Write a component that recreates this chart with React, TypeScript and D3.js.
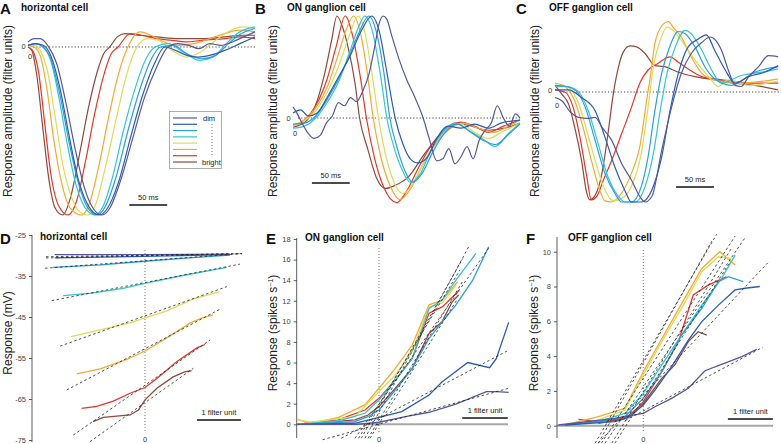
import { useEffect, useRef } from "react";
import * as d3 from "d3";

type Pt = [number, number];
type Seg = [number, number, number, number];

// dim -> bright
const COLORS = ["#57589b", "#2b5cae", "#2a9fdc", "#35c4d3", "#dcdc58", "#f4a935", "#e3372a", "#8d4a3c"];
const LEGEND_LABELS = ["dim", "bright"];

// temporal filters: [time (ms), amplitude (filter units)]
const hcFilters: Pt[][] = [
  [[0,0.03],[8,0.05],[16,0.05],[26,0.01],[38,-0.1],[50,-0.33],[62,-0.6],[74,-0.83],[86,-0.96],[98,-1],[108,-0.96],[122,-0.8],[138,-0.55],[154,-0.3],[170,-0.12],[185,0],[198,0.02],[212,0.01],[226,-0.01],[240,0.02],[255,0.01],[270,0.03],[285,0.06],[300,0.09]],
  [[0,0.01],[10,0.02],[20,0.01],[30,-0.05],[42,-0.24],[54,-0.52],[66,-0.78],[78,-0.93],[88,-0.99],[95,-1],[105,-0.96],[120,-0.8],[136,-0.53],[152,-0.28],[167,-0.1],[181,0],[195,-0.02],[210,-0.05],[225,-0.06],[240,-0.05],[260,-0.02],[280,0.02],[300,0.06]],
  [[0,0.01],[10,0.02],[20,0],[30,-0.07],[42,-0.28],[54,-0.56],[66,-0.8],[78,-0.95],[92,-1],[102,-0.95],[116,-0.78],[132,-0.5],[148,-0.25],[162,-0.08],[175,0],[192,0.01],[210,-0.04],[230,-0.07],[248,-0.05],[265,0.02],[282,0.08],[300,0.11]],
  [[0,0.01],[10,0.02],[20,0],[30,-0.08],[40,-0.28],[52,-0.58],[64,-0.83],[76,-0.96],[89,-1],[99,-0.95],[112,-0.77],[126,-0.5],[142,-0.24],[156,-0.07],[168,0],[185,0.02],[205,-0.03],[227,-0.08],[245,-0.06],[262,0.02],[280,0.09],[300,0.12]],
  [[0,0.01],[8,0.01],[16,-0.02],[26,-0.15],[36,-0.42],[46,-0.7],[58,-0.9],[68,-0.98],[79,-1],[90,-0.93],[102,-0.72],[116,-0.44],[130,-0.17],[144,0],[158,0.05],[172,0.04],[190,-0.02],[210,-0.06],[228,-0.03],[248,0.04],[268,0.1],[285,0.12],[300,0.11]],
  [[0,0.01],[8,0],[16,-0.05],[25,-0.25],[34,-0.55],[44,-0.8],[56,-0.96],[71,-1],[82,-0.92],[94,-0.7],[106,-0.43],[119,-0.17],[132,0],[148,0.09],[162,0.07],[180,0.03],[200,0.01],[220,0.02],[240,0.05],[260,0.08],[280,0.1],[300,0.09]],
  [[0,0],[6,-0.02],[14,-0.15],[22,-0.45],[30,-0.75],[40,-0.94],[53,-1],[64,-0.92],[76,-0.68],[88,-0.4],[100,-0.17],[110,-0.04],[119,0],[135,0.08],[150,0.07],[170,0.05],[190,0.04],[210,0.03],[230,0.04],[260,0.05],[280,0.06],[300,0.05]],
  [[0,0],[5,-0.02],[12,-0.18],[20,-0.5],[28,-0.8],[36,-0.96],[46,-1],[56,-0.9],[68,-0.64],[80,-0.36],[92,-0.14],[100,-0.04],[108,0],[118,0.06],[128,0.08],[145,0.07],[170,0.06],[200,0.05],[230,0.05],[260,0.06],[285,0.07],[300,0.07]],
];

const onFilters: Pt[][] = [
  [[0,0.11],[5,0.05],[12,-0.05],[20,-0.15],[28,-0.2],[36,-0.17],[44,-0.05],[52,0.02],[60,0.15],[68,0.12],[76,0.2],[84,0.16],[92,0.26],[100,0.42],[108,0.7],[114,0.93],[119,1],[124,0.97],[130,0.82],[140,0.58],[150,0.38],[160,0.22],[172,0],[180,-0.2],[190,-0.42],[198,-0.4],[206,-0.3],[214,-0.45],[222,-0.38],[230,-0.28],[238,-0.4],[246,-0.22],[254,-0.12],[262,-0.05],[270,0.12],[278,0],[286,-0.08],[294,0.04],[300,0]],
  [[0,0.05],[10,0.08],[20,0.02],[32,0.05],[45,0.2],[60,0.4],[75,0.6],[90,0.85],[104,1],[114,0.85],[124,0.45],[135,0],[145,-0.25],[155,-0.4],[165,-0.44],[178,-0.38],[190,-0.2],[205,-0.08],[222,-0.1],[240,-0.06],[258,-0.1],[275,-0.05],[300,-0.02]],
  [[0,-0.06],[15,-0.05],[30,0.02],[45,0.18],[60,0.38],[75,0.62],[88,0.85],[100,1],[110,0.85],[120,0.45],[128,0],[138,-0.3],[148,-0.52],[158,-0.63],[170,-0.55],[185,-0.33],[200,-0.15],[217,-0.06],[235,-0.14],[252,-0.22],[268,-0.26],[285,-0.16],[300,-0.06]],
  [[0,-0.1],[15,-0.08],[30,0],[45,0.15],[60,0.35],[75,0.65],[86,0.88],[95,1],[105,0.85],[115,0.45],[124,0],[134,-0.3],[145,-0.52],[155,-0.63],[168,-0.55],[182,-0.32],[198,-0.14],[215,-0.05],[232,-0.12],[250,-0.2],[267,-0.28],[285,-0.15],[300,-0.05]],
  [[0,-0.08],[15,-0.03],[30,0.07],[45,0.25],[60,0.5],[74,0.8],[86,1],[95,0.84],[104,0.45],[113,0],[122,-0.35],[133,-0.62],[145,-0.74],[158,-0.65],[172,-0.45],[188,-0.25],[205,-0.1],[222,-0.06],[240,-0.14],[258,-0.2],[278,-0.13],[300,-0.05]],
  [[0,-0.07],[15,-0.02],[30,0.1],[45,0.3],[58,0.58],[70,0.86],[80,1],[89,0.84],[98,0.45],[106,0],[116,-0.38],[128,-0.66],[141,-0.8],[155,-0.7],[170,-0.48],[186,-0.28],[205,-0.12],[225,-0.05],[245,-0.1],[265,-0.14],[285,-0.08],[300,-0.02]],
  [[0,-0.08],[15,-0.02],[30,0.12],[45,0.38],[57,0.7],[69,1],[79,0.8],[89,0.4],[97,0],[108,-0.4],[120,-0.68],[137,-0.83],[150,-0.72],[165,-0.5],[180,-0.3],[200,-0.13],[222,-0.04],[240,-0.08],[258,-0.14],[278,-0.08],[300,-0.02]],
  [[0,-0.09],[16,-0.04],[29,0.11],[42,0.44],[51,0.76],[58,1],[66,0.88],[72,0.72],[82,0.34],[88,0],[99,-0.31],[110,-0.58],[122,-0.69],[135,-0.66],[152,-0.58],[174,-0.35],[196,-0.15],[214,-0.05],[231,-0.07],[258,-0.12],[280,-0.1],[300,-0.05]],
];

const offFilters: Pt[][] = [
  [[0,-0.05],[9,-0.08],[20,-0.18],[31,-0.23],[44,-0.24],[53,-0.23],[62,-0.32],[75,-0.44],[88,-0.65],[101,-0.8],[112,-0.95],[119,-1],[128,-0.95],[141,-0.53],[154,-0.14],[167,0.17],[180,0.35],[194,0.45],[205,0.5],[211,0.48],[220,0.38],[229,0.2],[238,0.06],[246,0.05],[256,0.14],[269,0.23],[282,0.33],[295,0.32]],
  [[0,0.02],[18,0.02],[35,-0.05],[53,-0.17],[66,-0.41],[79,-0.68],[92,-0.89],[101,-1],[114,-1],[128,-0.89],[141,-0.59],[152,-0.17],[163,0.17],[176,0.41],[189,0.48],[200,0.52],[211,0.38],[225,0.2],[238,0.08],[256,0.14],[277,0.18],[295,0.24]],
  [[0,0.06],[15,0.05],[28,0.01],[40,-0.14],[53,-0.44],[66,-0.74],[79,-0.92],[88,-1],[101,-1],[114,-0.86],[123,-0.59],[132,-0.17],[141,0.17],[150,0.38],[163,0.55],[172,0.53],[185,0.41],[198,0.23],[211,0.12],[233,0.06],[264,0.18],[295,0.23]],
  [[0,0.05],[15,0.05],[30,0.01],[44,-0.17],[57,-0.47],[70,-0.77],[84,-0.95],[92,-1],[106,-1],[119,-0.86],[130,-0.56],[139,-0.17],[148,0.17],[159,0.41],[172,0.56],[180,0.53],[194,0.38],[207,0.2],[220,0.08],[246,0.15],[273,0.18],[295,0.21]],
  [[0,0.06],[15,0.05],[31,-0.1],[42,-0.35],[53,-0.62],[64,-0.86],[77,-0.99],[88,-0.97],[101,-0.86],[114,-0.56],[123,-0.14],[130,0.23],[139,0.47],[148,0.59],[156,0.56],[167,0.47],[185,0.29],[203,0.14],[216,0.05],[229,0.11],[256,0.06],[295,0.1]],
  [[0,0.08],[13,0.05],[26,-0.08],[37,-0.32],[48,-0.62],[59,-0.89],[66,-0.99],[75,-1],[88,-0.92],[101,-0.74],[112,-0.5],[121,-0.08],[126,0.14],[132,0.44],[141,0.6],[150,0.64],[156,0.59],[167,0.5],[180,0.32],[194,0.17],[211,0.11],[238,0.08],[264,0.09],[295,0.12]],
  [[0,0.02],[13,0],[24,-0.14],[33,-0.41],[42,-0.77],[48,-0.98],[55,-0.95],[64,-0.8],[75,-0.62],[88,-0.38],[101,-0.14],[112,0.08],[123,0.2],[136,0.26],[152,0.32],[163,0.27],[176,0.21],[194,0.14],[211,0.12],[233,0.1],[264,0.08],[295,0.08]],
  [[0,0.06],[9,-0.02],[18,-0.11],[26,-0.32],[35,-0.62],[42,-0.92],[46,-0.98],[53,-0.94],[62,-0.74],[70,-0.38],[77,-0.02],[84,0.23],[90,0.36],[99,0.42],[108,0.41],[119,0.35],[132,0.24],[145,0.23],[163,0.18],[185,0.14],[211,0.11],[238,0.08],[264,0.06],[295,0.02]],
];

// nonlinearities: [filter output (filter units), response]
const hcNonlin: Pt[][] = [
  [[-2.05,-29.8],[0,-29.8],[1.93,-29.7]],
  [[-2.05,-30.6],[0,-30.2],[1.93,-29.8]],
  [[-2.09,-32.9],[-1,-32.3],[0,-31.4],[1,-30.6],[1.93,-29.9]],
  [[-1.86,-39.8],[-1.2,-39.2],[-0.5,-38],[0,-36.8],[0.8,-35],[1.4,-33.8],[1.86,-32.9]],
  [[-1.68,-49.8],[-0.8,-47.6],[-0.3,-46.3],[0,-45.2],[0.5,-43.5],[1.1,-40.6],[1.7,-38.8]],
  [[-1.55,-58.9],[-1,-57.6],[-0.4,-55.3],[0,-53.3],[0.57,-49.6],[1.02,-46.5],[1.3,-45.2],[1.55,-44.5]],
  [[-1.44,-67.3],[-1.1,-66.8],[-0.72,-65.5],[-0.34,-63.6],[0,-62.2],[0.27,-60],[0.72,-55.9],[1.17,-52.6],[1.36,-51.7]],
  [[-1.18,-70.5],[-0.95,-69.5],[-0.34,-68.9],[-0.15,-67.7],[0,-65.2],[0.27,-62.4],[0.64,-59.6],[0.9,-58.4],[1.06,-58.1]],
];

const onNonlin: Pt[][] = [
  [[-1.79,0],[-0.5,0],[0,0.2],[0.58,0.74],[1.1,1.17],[1.69,1.97],[2.36,3.17],[2.58,3.17],[2.85,3.1]],
  [[-1.79,0],[-0.53,0.1],[0,0.68],[0.5,1.23],[1.1,2.85],[1.39,4.14],[1.95,6],[2.43,5.5],[2.58,6.4],[2.85,9.9]],
  [[-1.79,0],[-0.53,0.26],[-0.24,0.74],[0,1.39],[0.36,3.33],[0.73,5.44],[1.1,8.35],[1.69,11.6],[2.06,14],[2.41,17.25]],
  [[-1.79,0],[-0.9,0.32],[-0.31,1.07],[0,2.36],[0.36,4.3],[0.73,6.4],[1.1,11.26],[1.39,12.07],[1.69,14],[2.13,16.6]],
  [[-1.79,0.42],[-1.5,0.2],[-0.53,0.74],[0,3.17],[0.36,4.79],[0.73,7.05],[1.1,11.4],[1.39,11.8],[1.69,13.5]],
  [[-1.79,0.49],[-1.5,0.1],[-0.9,0.65],[-0.31,1.88],[0,3.5],[0.36,5.44],[0.73,7.7],[1.1,11.6],[1.39,12.07],[1.73,13.85]],
  [[-1.64,0.1],[-0.9,0.42],[-0.31,1.39],[0,2.52],[0.36,4.3],[0.73,6.4],[1.1,10.8],[1.39,11.4],[1.76,13]],
  [[-1.64,0],[-0.53,0.42],[-0.24,0.9],[0,1.72],[0.36,3.5],[0.73,5.44],[1.1,8.83],[1.39,10],[1.61,11.9],[1.75,12.56]],
];

const offNonlin: Pt[][] = [
  [[-1.89,0.04],[-0.63,0.42],[-0.33,0.56],[0,0.71],[0.26,1.09],[0.63,1.57],[1,2.15],[1.37,3.16],[1.74,3.52],[2.19,3.97],[2.52,4.39]],
  [[-1.74,0.04],[-0.63,0.23],[-0.33,0.46],[0,1.19],[0.26,2.05],[0.63,3.39],[1,4.92],[1.3,5.98],[1.67,6.93],[2.04,7.8],[2.26,7.9],[2.59,8]],
  [[-1.81,0.04],[-1,0.23],[-0.41,0.52],[0,1.57],[0.41,3.1],[0.85,5.2],[1.3,6.74],[1.67,8.28],[1.89,8.56],[2.22,8.28]],
  [[-1.81,0],[-1,0.23],[-0.41,0.71],[0,1.86],[0.41,3.49],[0.85,5.2],[1.3,6.93],[1.74,8.47],[2.04,9.8]],
  [[-1.81,0],[-1,0.32],[-0.41,0.9],[0,2.91],[0.41,4.83],[0.85,6.74],[1.3,8.85],[1.67,9.71],[1.96,9.62]],
  [[-1.81,0],[-1,0.52],[-0.41,1],[0,3.1],[0.41,5],[0.85,7],[1.3,9.04],[1.7,10],[2.04,9.23]],
  [[-1.44,0.36],[-1,0.23],[-0.48,0.42],[-0.26,0.61],[0,1.38],[0.41,3.1],[0.78,4.83],[1.11,7.51],[1.44,8.08],[1.85,8.56]],
  [[-1,0.13],[-0.41,0.42],[0,1.28],[0.41,2.72],[0.7,3.49],[1,4.83],[1.22,5.4],[1.41,5.21]],
];

// linear fits: [x1, y1, x2, y2]
const hcFits: Seg[] = [
  [-2.25,-30.3,2.2,-29.6],
  [-2.25,-30.6,2.2,-29.5],
  [-2.27,-33.1,2.23,-29.5],
  [-2.12,-41,2.16,-32.1],
  [-1.93,-52.1,1.86,-37.6],
  [-1.78,-62.8,1.74,-42.9],
  [-1.63,-73.8,1.48,-50.6],
  [-1.25,-75.4,1.1,-57.5],
];
const onFits: Seg[] = [
  [-1.24,-1.5,2.85,3.5],
  [-0.83,-1.36,2.85,7.2],
  [-0.53,-1.36,2.41,17.1],
  [-0.31,-1.36,1.99,17.4],
  [-0.39,-1.36,1.84,16.1],
  [-0.45,-1.36,1.78,15],
  [-0.24,-1.36,1.84,13.9],
  [-0.2,-1.36,1.7,12],
];
const offFits: Seg[] = [
  [-0.4,0.3,2.65,4.5],
  [-1,-1,2.78,9.4],
  [-0.85,-1,2.26,10.8],
  [-0.93,-1,2.04,10.9],
  [-1.07,-1,1.63,11],
  [-1,-1,1.52,10.6],
  [-0.7,-1,1.96,10.2],
  [-0.63,-1,1.9,9.3],
];

const hcTicks = [-25, -35, -45, -55, -65, -75];
const onTicks = [0, 2, 4, 6, 8, 10, 12, 14, 16, 18];
const offTicks = [0, 2, 4, 6, 8, 10];

const FONT = "'Liberation Sans', Arial, Helvetica, sans-serif";

const Figure = () => {
  const svgRef = useRef(null);

  useEffect(() => {
    const svg = d3.select(svgRef.current);
    svg.selectAll("*").remove();

    const text = (x, y, str, size, bold = false, anchor = "start", fill = "#222") =>
      svg
        .append("text")
        .attr("x", x)
        .attr("y", y)
        .attr("font-family", FONT)
        .attr("font-size", size)
        .attr("font-weight", bold ? "bold" : "normal")
        .attr("text-anchor", anchor)
        .attr("fill", fill)
        .text(str);

    const yLabel = (x, y, str, sup = null) => {
      const t = svg
        .append("text")
        .attr("transform", `translate(${x},${y}) rotate(-90)`)
        .attr("text-anchor", "middle")
        .attr("font-family", FONT)
        .attr("font-size", 12)
        .attr("fill", "#222");
      t.append("tspan").text(str);
      if (sup) {
        t.append("tspan").attr("dy", -4).attr("font-size", 7).text(sup);
        t.append("tspan").attr("dy", 4).text(")");
      }
    };

    const scaleBar = (x1, x2, y, str) => {
      svg.append("line").attr("x1", x1).attr("x2", x2).attr("y1", y).attr("y2", y)
        .attr("stroke", "#111").attr("stroke-width", 1.3);
      text((x1 + x2) / 2, y - 5, str, 7.5, false, "middle");
    };

    // headings
    const heads = [
      ["A", 0, 14, "horizontal cell", 21, 11],
      ["B", 255, 14, "ON ganglion cell", 287, 11],
      ["C", 516, 14, "OFF ganglion cell", 549, 11],
      ["D", 0, 244, "horizontal cell", 40, 240],
      ["E", 266, 244, "ON ganglion cell", 305, 241],
      ["F", 526, 244, "OFF ganglion cell", 568, 241],
    ];
    heads.forEach(([l, lx, ly, t, tx, ty]) => {
      text(lx, ly, l, 15, true, "start", "#111");
      text(tx, ty, t, 10, true, "start", "#111");
    });

    // ---- top row: temporal filters
    const kernelPanel = (data, x, y, labels) => {
      const [x0, x1] = x.range();
      svg.append("line")
        .attr("x1", x0 + 5).attr("x2", x1).attr("y1", y(0)).attr("y2", y(0))
        .attr("stroke", "#333").attr("stroke-width", 0.9).attr("stroke-dasharray", "1.2,2");
      const line = d3.line().curve(d3.curveMonotoneX).x((d) => x(d[0])).y((d) => y(d[1]));
      svg.append("g")
        .selectAll("path")
        .data(data.map((d, i) => ({ d, i })).reverse())
        .join("path")
        .attr("d", (s) => line(s.d))
        .attr("fill", "none")
        .attr("stroke", (s) => COLORS[s.i])
        .attr("stroke-width", 1.2);
      labels.forEach(([lx, ly]) => text(lx, ly, "0", 7.5, false, "middle", "#333"));
    };

    const xA = d3.scaleLinear().domain([0, 300]).range([28, 255]);
    const yA = d3.scaleLinear().domain([-1, 0]).range([215, 47]);
    const xB = d3.scaleLinear().domain([0, 300]).range([293, 520]);
    const yB = d3.scaleLinear().domain([0, 1]).range([118, 16]);
    const xC = d3.scaleLinear().domain([0, 300]).range([555, 782]);
    const yC = d3.scaleLinear().domain([-1, 0]).range([202, 92]);

    kernelPanel(hcFilters, xA, yA, [[23.5, 49], [30, 59]]);
    kernelPanel(onFilters, xB, yB, [[288.5, 121], [295, 136]]);
    kernelPanel(offFilters, xC, yC, [[550, 93], [557, 108]]);

    scaleBar(xA(134), xA(184), 205, "50 ms");
    scaleBar(xB(25), xB(75), 183, "50 ms");
    scaleBar(xC(160), xC(210), 187, "50 ms");

    yLabel(12, 111, "Response amplitude (filter units)");
    yLabel(277, 111, "Response amplitude (filter units)");
    yLabel(539, 111, "Response amplitude (filter units)");

    // legend
    const leg = svg.append("g");
    leg.append("rect").attr("x", 169.5).attr("y", 111.5).attr("width", 52).attr("height", 57)
      .attr("fill", "white").attr("stroke", "#999").attr("stroke-width", 0.8);
    const legY = d3.scaleLinear().domain([0, 7]).range([118, 162]);
    leg.selectAll("line.lg").data(COLORS).join("line")
      .attr("x1", 173).attr("x2", 197)
      .attr("y1", (d, i) => legY(i)).attr("y2", (d, i) => legY(i))
      .attr("stroke", (d) => d).attr("stroke-width", 1.2);
    leg.append("line").attr("x1", 212).attr("x2", 212).attr("y1", 124).attr("y2", 156)
      .attr("stroke", "#555").attr("stroke-width", 0.8).attr("stroke-dasharray", "1,2");
    text(203, 121, LEGEND_LABELS[0], 7.5);
    text(202, 165, LEGEND_LABELS[1], 7.5);

    // ---- bottom row: nonlinearities
    const nonlinPanel = (data, fits, x, y, ticks, axisX, yTop, yBot, baselineEnd, dotTop) => {
      svg.append("line")
        .attr("x1", x(0)).attr("x2", x(0)).attr("y1", dotTop).attr("y2", 432)
        .attr("stroke", "#555").attr("stroke-width", 0.8).attr("stroke-dasharray", "1,2");
      if (baselineEnd) {
        svg.append("line")
          .attr("x1", axisX).attr("x2", baselineEnd).attr("y1", y(0)).attr("y2", y(0))
          .attr("stroke", "#a8a8a8").attr("stroke-width", 2);
      }
      const ax = svg.append("g")
        .attr("transform", `translate(${axisX},0)`)
        .call(d3.axisLeft(y).tickValues(ticks).tickSize(3).tickPadding(3).tickFormat((d) => String(d)));
      ax.select(".domain").remove();
      ax.selectAll("line").attr("stroke", "#333").attr("stroke-width", 0.8);
      ax.selectAll("text").attr("font-family", FONT).attr("font-size", 7.5).attr("fill", "#444");
      svg.append("line")
        .attr("x1", axisX).attr("x2", axisX).attr("y1", yTop).attr("y2", yBot)
        .attr("stroke", "#333").attr("stroke-width", 0.8);

      const line = d3.line().x((d) => x(d[0])).y((d) => y(d[1]));
      svg.append("g")
        .selectAll("path")
        .data(data.map((d, i) => ({ d, i })).reverse())
        .join("path")
        .attr("d", (s) => line(s.d))
        .attr("fill", "none")
        .attr("stroke", (s) => COLORS[s.i])
        .attr("stroke-width", 1.3);
      svg.append("g")
        .selectAll("line")
        .data(fits)
        .join("line")
        .attr("x1", (f) => x(f[0])).attr("y1", (f) => y(f[1]))
        .attr("x2", (f) => x(f[2])).attr("y2", (f) => y(f[3]))
        .attr("stroke", "#222").attr("stroke-width", 0.8).attr("stroke-dasharray", "2.5,2.5");
      text(x(0), 442, "0", 7.5, false, "middle", "#333");
    };

    const xD = d3.scaleLinear().domain([0, 1]).range([145, 189]);
    const yD = d3.scaleLinear().domain([-75, -25]).range([440, 235]);
    const xE = d3.scaleLinear().domain([0, 1]).range([379, 424.5]);
    const yE = d3.scaleLinear().domain([0, 18]).range([424.3, 239]);
    const xF = d3.scaleLinear().domain([0, 1]).range([643.3, 688.3]);
    const yF = d3.scaleLinear().domain([0, 10]).range([425.7, 251.7]);

    nonlinPanel(hcNonlin, hcFits, xD, yD, hcTicks, 32, 235, 442, null, 250);
    nonlinPanel(onNonlin, onFits, xE, yE, onTicks, 296.7, 238, 438, 508, 248);
    nonlinPanel(offNonlin, offFits, xF, yF, offTicks, 557, 237, 438, 773, 250);

    scaleBar(xD(1.18), xD(2.18), 420, "1 filter unit");
    scaleBar(xE(1.83), xE(2.83), 418, "1 filter unit");
    scaleBar(xF(1.88), xF(2.88), 419, "1 filter unit");

    yLabel(12, 333, "Response (mV)");
    yLabel(277, 333, "Response (spikes s", "\u22121");
    yLabel(538, 333, "Response (spikes s", "\u22121");
  }, []);

  return (
    <svg
      ref={svgRef}
      width={781}
      height={444}
      style={{ position: "absolute", left: 0, top: 0, background: "white" }}
    ></svg>
  );
};

export default function App() {
  return <Figure />;
}
